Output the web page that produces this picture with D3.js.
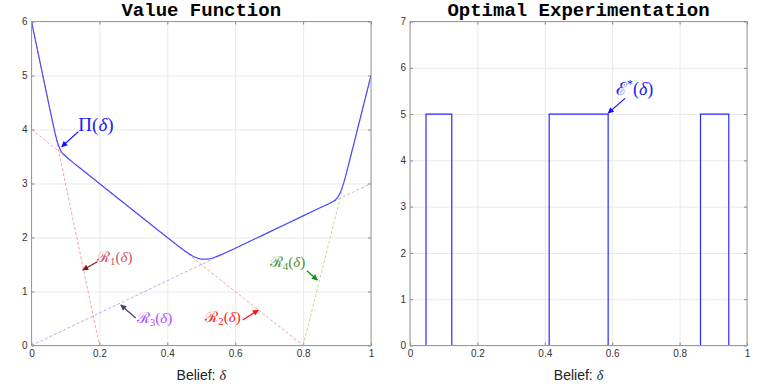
<!DOCTYPE html>
<html>
<head>
<meta charset="utf-8">
<script src="https://cdn.jsdelivr.net/npm/d3@7"></script>
<style>
    body{margin:0;background:#fff;}
    .title{font-family:"Liberation Mono","DejaVu Sans Mono",monospace;font-weight:bold;font-size:19px;fill:#000;}
    .axis text{font-family:"Liberation Sans",Arial,sans-serif;font-size:10px;fill:#333;}
    .axis line{stroke:#888;}
    .axis path{display:none;}
    .grid line{stroke:#e9e9e9;}
    .grid path{display:none;}
    .frame{fill:none;stroke:#9a9a9a;stroke-width:1;}
    .xlabel{font-family:"Liberation Sans",Arial,sans-serif;font-size:14px;fill:#222;}
    .math{font-family:"Liberation Serif","DejaVu Serif",serif;}
</style>
</head>
<body>
<script>
(function(){

    //pseudo-global data
    var deltaGrid = [0, 0.02, 0.04, 0.06, 0.07, 0.08, 0.09, 0.10, 0.12, 0.15, 0.20, 0.30, 0.40, 0.45, 0.48, 0.50, 0.52, 0.55, 0.60, 0.70, 0.80, 0.85, 0.88, 0.90, 0.91, 0.92, 0.94, 0.96, 0.98, 1.00]; //belief values
    var valuePi = [6.00, 5.40, 4.80, 4.20, 3.92, 3.70, 3.57, 3.51, 3.40, 3.25, 3.00, 2.50, 2.00, 1.76, 1.64, 1.60, 1.60, 1.66, 1.80, 2.10, 2.40, 2.55, 2.64, 2.73, 2.84, 3.02, 3.50, 4.00, 4.50, 5.00]; //value function

    var rNames = ["1", "2", "3", "4"]; //subscripts of the R lines
    var rStart = [[0, 6], [0, 4], [0, 0], [0.8, 0]]; //line start (belief, value)
    var rEnd = [[0.2, 0], [0.8, 0], [1, 3], [1, 5]]; //line end (belief, value)
    var rLineColors = ["#eb9aaa", "#f29a9a", "#c39be6", "#b3d693"];
    var rTextColors = ["#cf4f68", "#ff2020", "#a64dff", "#4a8f45"];
    var rArrowColors = ["#8a1515", "#ff1010", "#4d3d70", "#108a10"];

    var expBreaks = [0, 0.0475, 0.124, 0.413, 0.588, 0.862, 0.946, 1]; //where experimentation switches
    var expLevels = [0, 5, 0, 5, 0, 5, 0, 0]; //experimentation level from each break

    var xTicks = [0, 0.2, 0.4, 0.6, 0.8, 1];
    var yTicksLeft = [0, 1, 2, 3, 4, 5, 6];
    var yTicksRight = [0, 1, 2, 3, 4, 5, 6, 7];

    //annotation anchors in data units: text, arrow tail, arrow tip
    var rLabelAt = [[0.193, 1.55], [0.616, 0.435], [0.310, 0.42], [0.806, 1.454]];
    var rLabelAnchor = ["start", "end", "start", "end"];
    var rArrowFrom = [[0.194, 1.55], [0.622, 0.472], [0.307, 0.51], [0.811, 1.385]];
    var rArrowTo = [[0.151, 1.40], [0.668, 0.657], [0.263, 0.75], [0.842, 1.213]];

    window.onload = setCharts();

    function setCharts(){
        var width = 763, height = 388;

        var svg = d3.select("body")
            .append("svg")
            .attr("width", width)
            .attr("height", height);

        var defs = svg.append("defs");

        //left panel: value function
        var left = makePanel(svg, 31.5, 371, 21.5, 345.5, [0, 6], yTicksLeft, "Value Function", "clipL");
        drawValueFunction(left, defs);

        //right panel: optimal experimentation
        var right = makePanel(svg, 410, 747, 21.5, 345.5, [0, 7], yTicksRight, "Optimal Experimentation", "clipR");
        drawExperimentation(right, defs);
    };

    //build axes, grid, frame and labels for one panel
    function makePanel(svg, x0, x1, y0, y1, yDomain, yTicks, title, clipId){
        var x = d3.scaleLinear().domain([0, 1]).range([x0, x1]);
        var y = d3.scaleLinear().domain(yDomain).range([y1, y0]);

        var g = svg.append("g");

        //grid lines
        g.append("g")
            .attr("class", "grid")
            .attr("transform", "translate(0," + y1 + ")")
            .call(d3.axisBottom(x).tickValues(xTicks).tickSize(-(y1 - y0)).tickFormat(""));
        g.append("g")
            .attr("class", "grid")
            .attr("transform", "translate(" + x0 + ",0)")
            .call(d3.axisLeft(y).tickValues(yTicks).tickSize(-(x1 - x0)).tickFormat(""));

        //ticks pointing inward
        g.append("g")
            .attr("class", "axis")
            .attr("transform", "translate(0," + y1 + ")")
            .call(d3.axisBottom(x).tickValues(xTicks).tickSize(-3).tickPadding(4).tickFormat(d3.format("")));
        g.append("g")
            .attr("class", "axis")
            .attr("transform", "translate(" + x0 + ",0)")
            .call(d3.axisLeft(y).tickValues(yTicks).tickSize(-3).tickPadding(4).tickFormat(d3.format("d")));
        g.append("g")
            .attr("class", "axis")
            .attr("transform", "translate(0," + y0 + ")")
            .call(d3.axisTop(x).tickValues(xTicks).tickSize(-3).tickFormat(""));
        g.append("g")
            .attr("class", "axis")
            .attr("transform", "translate(" + x1 + ",0)")
            .call(d3.axisRight(y).tickValues(yTicks).tickSize(-3).tickFormat(""));

        //clip for the plotted lines
        var clip = svg.append("clipPath").attr("id", clipId);
        clip.append("rect")
            .attr("x", x0).attr("y", y0)
            .attr("width", x1 - x0).attr("height", y1 - y0);

        var plot = g.append("g").attr("clip-path", "url(#" + clipId + ")");

        //frame
        g.append("rect")
            .attr("class", "frame")
            .attr("x", x0).attr("y", y0)
            .attr("width", x1 - x0).attr("height", y1 - y0);

        //title
        g.append("text")
            .attr("class", "title")
            .attr("x", (x0 + x1) / 2)
            .attr("y", 16)
            .attr("text-anchor", "middle")
            .text(title);

        //x label
        var xl = g.append("text")
            .attr("class", "xlabel")
            .attr("x", (x0 + x1) / 2)
            .attr("y", 380)
            .attr("text-anchor", "middle");
        xl.append("tspan").text("Belief: ");
        xl.append("tspan").attr("class", "math").style("font-style", "italic").text("δ");

        return {g: g, plot: plot, x: x, y: y};
    };

    //arrow head marker of a given colour
    function arrowMarker(defs, id, color){
        defs.append("marker")
            .attr("id", id)
            .attr("viewBox", "0 0 10 10")
            .attr("refX", 9)
            .attr("refY", 5)
            .attr("markerWidth", 7)
            .attr("markerHeight", 6)
            .attr("markerUnits", "userSpaceOnUse")
            .attr("orient", "auto")
            .append("path")
            .attr("d", "M0,0L10,5L0,10z")
            .attr("fill", color);
        return "url(#" + id + ")";
    };

    function drawArrow(panel, from, to, color, marker){
        panel.g.append("line")
            .attr("x1", panel.x(from[0])).attr("y1", panel.y(from[1]))
            .attr("x2", panel.x(to[0])).attr("y2", panel.y(to[1]))
            .attr("stroke", color)
            .attr("stroke-width", 1.2)
            .attr("marker-end", marker);
    };

    function drawValueFunction(panel, defs){
        var x = panel.x, y = panel.y;

        //dashed candidate lines
        rNames.forEach(function(n, i){
            panel.plot.append("line")
                .attr("x1", x(rStart[i][0])).attr("y1", y(rStart[i][1]))
                .attr("x2", x(rEnd[i][0])).attr("y2", y(rEnd[i][1]))
                .attr("stroke", rLineColors[i])
                .attr("stroke-width", 0.9)
                .attr("stroke-dasharray", "3,2");
        });

        //value function curve
        var line = d3.line()
            .x(function(d, i){ return x(deltaGrid[i]); })
            .y(function(d){ return y(d); })
            .curve(d3.curveMonotoneX);

        panel.plot.append("path")
            .datum(valuePi)
            .attr("d", line)
            .attr("fill", "none")
            .attr("stroke", "#3a3aff")
            .attr("stroke-opacity", 0.9)
            .attr("stroke-width", 1.2);

        //R labels and arrows
        rNames.forEach(function(n, i){
            var t = panel.g.append("text")
                .attr("class", "math")
                .attr("x", x(rLabelAt[i][0]))
                .attr("y", y(rLabelAt[i][1]))
                .attr("text-anchor", rLabelAnchor[i])
                .style("font-size", "15px")
                .attr("fill", rTextColors[i]);
            t.append("tspan").text("ℛ");
            t.append("tspan").attr("dy", 3).style("font-size", "11px").text(n);
            t.append("tspan").attr("dy", -3).text("(");
            t.append("tspan").style("font-style", "italic").text("δ");
            t.append("tspan").text(")");

            var m = arrowMarker(defs, "arR" + n, rArrowColors[i]);
            drawArrow(panel, rArrowFrom[i], rArrowTo[i], rArrowColors[i], m);
        });

        //Pi label
        var p = panel.g.append("text")
            .attr("class", "math")
            .attr("x", x(0.138))
            .attr("y", y(3.98))
            .style("font-size", "19px")
            .attr("fill", "#2020ff");
        p.append("tspan").text("Π(");
        p.append("tspan").style("font-style", "italic").text("δ");
        p.append("tspan").text(")");
        var mp = arrowMarker(defs, "arPi", "#1010ff");
        drawArrow(panel, [0.138, 3.96], [0.089, 3.68], "#1010ff", mp);
    };

    function drawExperimentation(panel, defs){
        var x = panel.x, y = panel.y;

        var line = d3.line()
            .x(function(d, i){ return x(expBreaks[i]); })
            .y(function(d){ return y(d); })
            .curve(d3.curveStepAfter);

        panel.plot.append("path")
            .datum(expLevels)
            .attr("d", line)
            .attr("fill", "none")
            .attr("stroke", "#2a2aff")
            .attr("stroke-width", 1.2);

        //E* label
        var t = panel.g.append("text")
            .attr("class", "math")
            .attr("x", x(0.611))
            .attr("y", y(5.41))
            .style("font-size", "18px")
            .attr("fill", "#2020ff");
        t.append("tspan").text("ℰ");
        t.append("tspan").attr("dy", -7).style("font-size", "12px").text("*");
        t.append("tspan").attr("dy", 7).text("(");
        t.append("tspan").style("font-style", "italic").text("δ");
        t.append("tspan").text(")");
        var m = arrowMarker(defs, "arE", "#1010ff");
        drawArrow(panel, [0.638, 5.34], [0.588, 5.02], "#1010ff", m);
    };

})();
</script>
</body>
</html>
